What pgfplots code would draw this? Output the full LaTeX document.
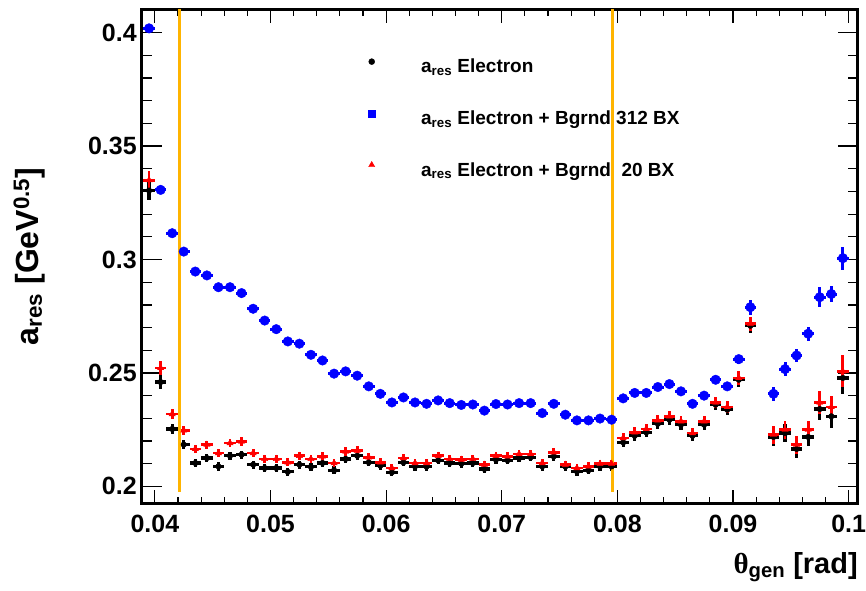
\documentclass[border=0pt]{standalone}
\usepackage{fontspec}
\setmainfont{Liberation Sans}
\newfontfamily\thetafont{Liberation Serif}
\usepackage{pgfplots}
\usepackage{pgfplotstable}
\pgfplotsset{compat=1.18}
\definecolor{cutorange}{HTML}{FFB400}
\definecolor{rootblue}{HTML}{0000FF}
\definecolor{rootred}{HTML}{FF0000}

\pgfplotsset{
  binerr/.style={only marks, forget plot,
    error bars/x dir=both, error bars/x fixed=0.0005,
    error bars/y dir=both, error bars/y explicit,
    error bars/error mark=none,
    error bars/error bar style={line width=#1}},
}

% a_res, Electron only
\pgfplotstableread{
x y ey
0.0395 0.3304 0.0040
0.0405 0.2460 0.0030
0.0415 0.2253 0.0020
0.0425 0.2184 0.0020
0.0435 0.2103 0.0018
0.0445 0.2125 0.0018
0.0455 0.2088 0.0018
0.0465 0.2135 0.0018
0.0475 0.2140 0.0018
0.0485 0.2096 0.0018
0.0495 0.2081 0.0018
0.0505 0.2081 0.0018
0.0515 0.2064 0.0018
0.0525 0.2096 0.0018
0.0535 0.2086 0.0018
0.0545 0.2103 0.0018
0.0555 0.2071 0.0018
0.0565 0.2121 0.0018
0.0575 0.2135 0.0018
0.0585 0.2106 0.0018
0.0595 0.2091 0.0018
0.0605 0.2062 0.0018
0.0615 0.2106 0.0018
0.0625 0.2088 0.0018
0.0635 0.2087 0.0018
0.0645 0.2115 0.0018
0.0655 0.2103 0.0018
0.0665 0.2100 0.0018
0.0675 0.2103 0.0018
0.0685 0.2077 0.0018
0.0695 0.2118 0.0018
0.0705 0.2115 0.0018
0.0715 0.2125 0.0018
0.0725 0.2128 0.0018
0.0735 0.2088 0.0018
0.0745 0.2132 0.0018
0.0755 0.2087 0.0018
0.0765 0.2066 0.0018
0.0775 0.2071 0.0018
0.0785 0.2088 0.0018
0.0795 0.2088 0.0018
0.0805 0.2194 0.0022
0.0815 0.2223 0.0022
0.0825 0.2238 0.0022
0.0835 0.2276 0.0022
0.0845 0.2294 0.0022
0.0855 0.2272 0.0022
0.0865 0.2223 0.0022
0.0875 0.2272 0.0022
0.0885 0.2360 0.0025
0.0895 0.2338 0.0025
0.0905 0.2470 0.0030
0.0915 0.2708 0.0030
0.0935 0.2218 0.0040
0.0945 0.2235 0.0040
0.0955 0.2165 0.0040
0.0965 0.2218 0.0040
0.0975 0.2341 0.0050
0.0985 0.2309 0.0050
0.0995 0.2478 0.0070
}\elec

% a_res, Electron + Bgrnd 312 BX
\pgfplotstableread{
x y ey
0.0395 0.4019 0.0015
0.0405 0.3307 0.0012
0.0415 0.3116 0.0010
0.0425 0.3035 0.0010
0.0435 0.2947 0.0010
0.0445 0.2930 0.0010
0.0455 0.2878 0.0010
0.0465 0.2878 0.0010
0.0475 0.2852 0.0010
0.0485 0.2783 0.0010
0.0495 0.2731 0.0010
0.0505 0.2693 0.0010
0.0515 0.2639 0.0010
0.0525 0.2629 0.0010
0.0535 0.2580 0.0010
0.0545 0.2555 0.0010
0.0555 0.2497 0.0010
0.0565 0.2507 0.0010
0.0575 0.2488 0.0010
0.0585 0.2441 0.0010
0.0595 0.2408 0.0010
0.0605 0.2370 0.0010
0.0615 0.2392 0.0010
0.0625 0.2370 0.0010
0.0635 0.2364 0.0010
0.0645 0.2379 0.0010
0.0655 0.2367 0.0010
0.0665 0.2359 0.0010
0.0675 0.2361 0.0010
0.0685 0.2334 0.0010
0.0695 0.2363 0.0010
0.0705 0.2361 0.0010
0.0715 0.2367 0.0010
0.0725 0.2367 0.0010
0.0735 0.2323 0.0010
0.0745 0.2364 0.0010
0.0755 0.2316 0.0010
0.0765 0.2291 0.0010
0.0775 0.2291 0.0010
0.0785 0.2299 0.0010
0.0795 0.2294 0.0010
0.0805 0.2388 0.0015
0.0815 0.2412 0.0015
0.0825 0.2412 0.0015
0.0835 0.2438 0.0015
0.0845 0.2451 0.0015
0.0855 0.2419 0.0015
0.0865 0.2364 0.0015
0.0875 0.2400 0.0015
0.0885 0.2470 0.0015
0.0895 0.2441 0.0015
0.0905 0.2561 0.0020
0.0915 0.2790 0.0033
0.0935 0.2408 0.0030
0.0945 0.2517 0.0030
0.0955 0.2577 0.0030
0.0965 0.2673 0.0030
0.0975 0.2834 0.0045
0.0985 0.2848 0.0035
0.0995 0.3006 0.0050
}\bgbig

% a_res, Electron + Bgrnd 20 BX
\pgfplotstableread{
x y ey
0.0395 0.3350 0.0040
0.0405 0.2522 0.0030
0.0415 0.2319 0.0020
0.0425 0.2247 0.0020
0.0435 0.2165 0.0018
0.0445 0.2184 0.0018
0.0455 0.2147 0.0018
0.0465 0.2191 0.0018
0.0475 0.2198 0.0018
0.0485 0.2147 0.0018
0.0495 0.2121 0.0018
0.0505 0.2121 0.0018
0.0515 0.2106 0.0018
0.0525 0.2135 0.0018
0.0535 0.2121 0.0018
0.0545 0.2132 0.0018
0.0555 0.2103 0.0018
0.0565 0.2154 0.0018
0.0575 0.2158 0.0018
0.0585 0.2128 0.0018
0.0595 0.2106 0.0018
0.0605 0.2081 0.0018
0.0615 0.2125 0.0018
0.0625 0.2103 0.0018
0.0635 0.2103 0.0018
0.0645 0.2135 0.0018
0.0655 0.2121 0.0018
0.0665 0.2118 0.0018
0.0675 0.2121 0.0018
0.0685 0.2096 0.0018
0.0695 0.2135 0.0018
0.0705 0.2132 0.0018
0.0715 0.2143 0.0018
0.0725 0.2143 0.0018
0.0735 0.2103 0.0018
0.0745 0.2150 0.0018
0.0755 0.2096 0.0018
0.0765 0.2081 0.0018
0.0775 0.2088 0.0018
0.0785 0.2100 0.0018
0.0795 0.2100 0.0018
0.0805 0.2213 0.0022
0.0815 0.2238 0.0022
0.0825 0.2253 0.0022
0.0835 0.2291 0.0022
0.0845 0.2309 0.0022
0.0855 0.2287 0.0022
0.0865 0.2235 0.0022
0.0875 0.2287 0.0022
0.0885 0.2370 0.0025
0.0895 0.2350 0.0025
0.0905 0.2478 0.0030
0.0915 0.2717 0.0030
0.0935 0.2228 0.0040
0.0945 0.2250 0.0040
0.0955 0.2184 0.0040
0.0965 0.2250 0.0040
0.0975 0.2370 0.0050
0.0985 0.2350 0.0050
0.0995 0.2507 0.0070
}\bgsmall

\begin{document}
\begin{tikzpicture}
\begin{axis}[
  scale only axis,
  width=716.5pt, height=494.7pt,
  xmin=0.03888, xmax=0.10080,
  ymin=0.1924, ymax=0.4103,
  axis line style={line width=2.8pt},
  tick align=inside,
  xtick={0.04,0.05,0.06,0.07,0.08,0.09,0.1},
  xticklabels={0.04,0.05,0.06,0.07,0.08,0.09,0.1},
  ytick={0.2,0.25,0.3,0.35,0.4},
  yticklabels={0.2,0.25,0.3,0.35,0.4},
  minor x tick num=4,
  minor y tick num=4,
  xtick style={/pgfplots/major tick length=14pt,/pgfplots/minor tick length=7pt},
  ytick style={/pgfplots/major tick length=20pt,/pgfplots/minor tick length=10pt},
  major tick style={line width=1.2pt, black},
  minor tick style={line width=1.2pt, black},
  ticklabel style={font=\fontsize{25}{30}\selectfont\bfseries, inner sep=0pt},
  xticklabel style={anchor=north, yshift=-11pt},
  yticklabel style={anchor=east, xshift=-5pt},
  xlabel={{\thetafont θ}\textsubscript{gen} [rad]},
  ylabel={a\textsubscript{res} [GeV\textsuperscript{0.5}]},
  xlabel style={font=\fontsize{29}{32}\selectfont\bfseries, at={(axis description cs:1,-0.1414)}, anchor=base east, inner sep=0pt},
  ylabel style={font=\fontsize{32}{36}\selectfont\bfseries, at={(axis description cs:-0.1576,0.5)}, anchor=center, rotate=0, inner sep=0pt},
  legend style={draw=none, fill=none, inner sep=0pt, outer sep=0pt,
    at={(axis cs:0.058453,0.38855)}, anchor=north west,
    font=\fontsize{19}{22}\selectfont\bfseries,
    row sep=33pt, column sep=46pt,
    nodes={inner sep=0pt, text height=13pt, text depth=4pt}},
  legend cell align=left,
  legend image code/.code={\draw[#1] plot coordinates {(0pt,6.7pt)};},
]
\addlegendimage{only marks, mark=*, mark size=3pt, black}
\addlegendentry{a\textsubscript{res} Electron}
\addlegendimage{only marks, mark=square*, mark size=3.5pt, rootblue}
\addlegendentry{a\textsubscript{res} Electron + Bgrnd 312 BX}
\addlegendimage{only marks, mark=triangle*, mark size=3.5pt, rootred}
\addlegendentry{a\textsubscript{res} Electron + Bgrnd\ \ 20 BX}

\addplot[binerr=3.2pt, mark=*, mark size=2.8pt, black]
  table[x=x, y=y, y error=ey] {\elec};
\addplot[binerr=3pt, mark=*, mark size=4.8pt, rootblue]
  table[x=x, y=y, y error=ey] {\bgbig};
\addplot[binerr=2.8pt, mark=triangle*, mark size=3.6pt, rootred]
  table[x=x, y=y, y error=ey] {\bgsmall};

\addplot[forget plot, cutorange, line width=2.8pt] coordinates {(0.0421,0.1976) (0.0421,0.4103)};
\addplot[forget plot, cutorange, line width=2.8pt] coordinates {(0.0796,0.1976) (0.0796,0.4103)};

\coordinate (ll) at (rel axis cs:0,0);
\coordinate (ur) at (rel axis cs:1,1);
\end{axis}
\path ([shift={(-142pt,-87pt)}]ll) rectangle ([shift={(7.5pt,9.3pt)}]ur);
\end{tikzpicture}
\end{document}
